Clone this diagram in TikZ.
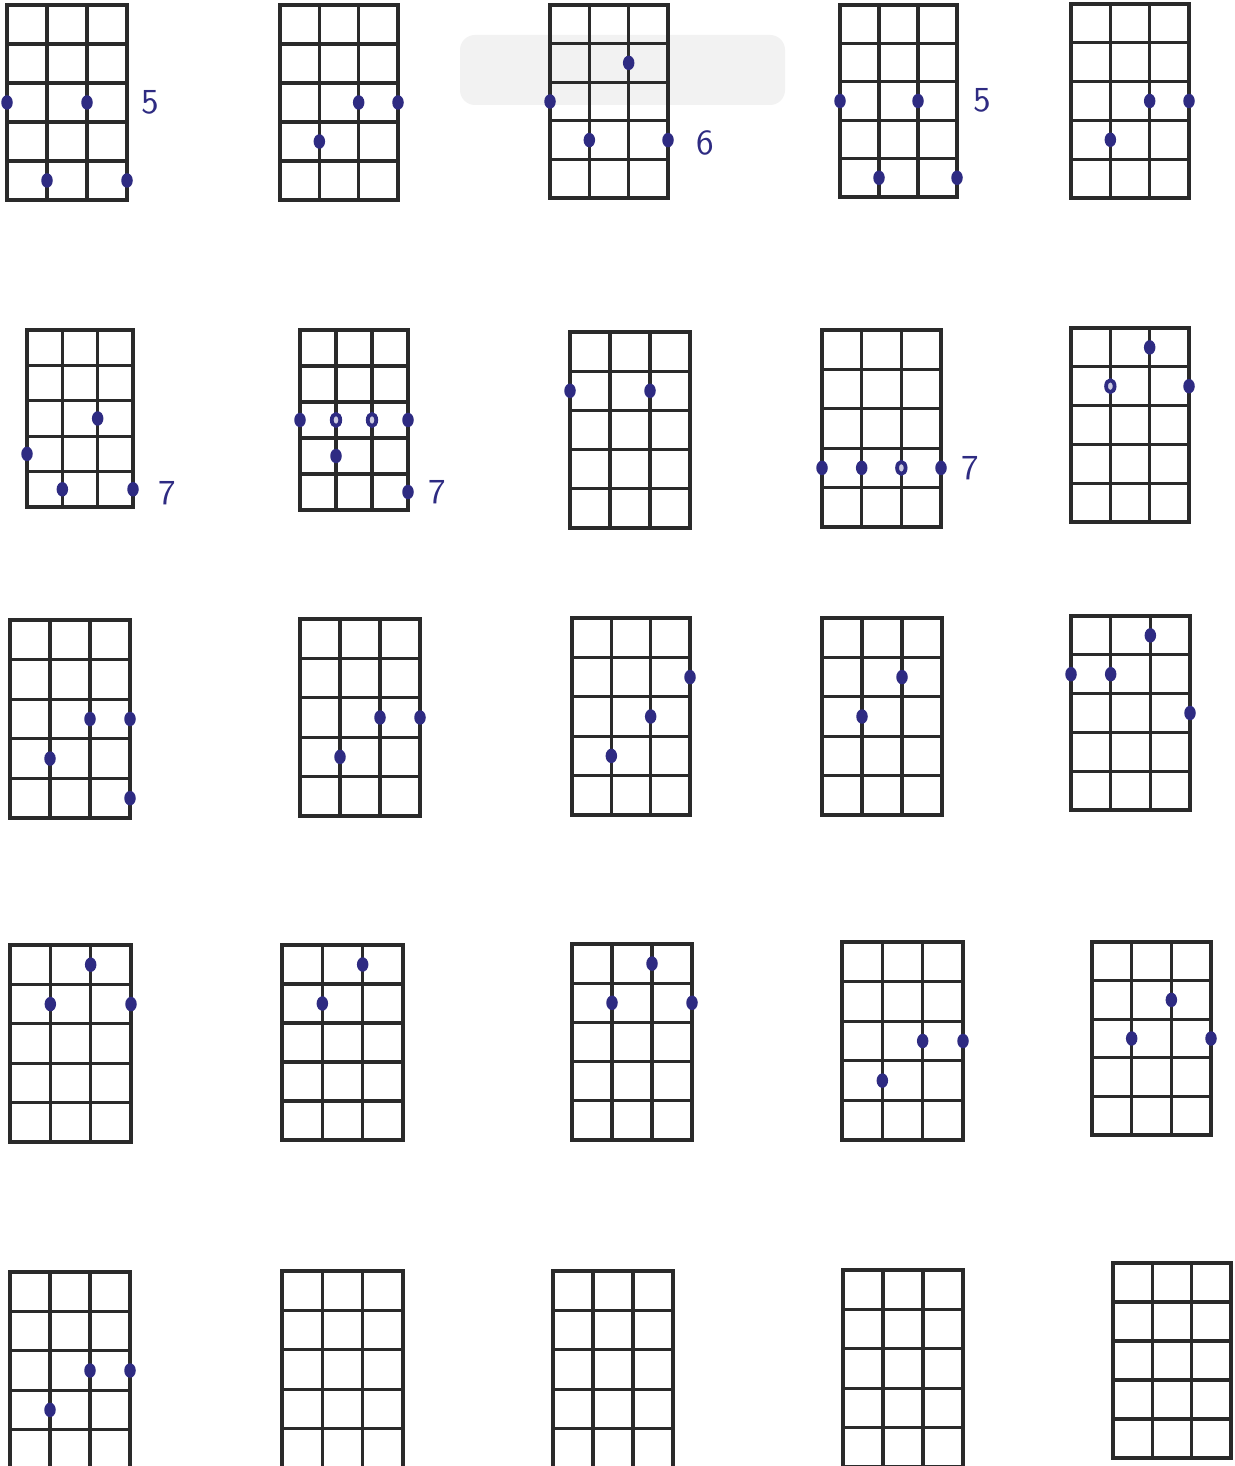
\documentclass[tikz,border=0pt]{standalone}
\usepackage{tikz}
\usetikzlibrary{shapes.geometric}
\definecolor{gridink}{HTML}{2A2A2A}
\definecolor{penblue}{HTML}{2E2B82}
\definecolor{smudge}{HTML}{F2F2F2}

% one chord box: [hollow dots] {name}{left}{top}{right}{bottom}{filled dots string/fret}
\newcommand{\chordbox}[7][]{%
  \draw[fretline] (#3,#4) rectangle (#5,#6);
  \foreach \i in {1,2}
    \draw[fretline] ({#3+\i*(#5-#3)/3},#4) -- ({#3+\i*(#5-#3)/3},#6);
  \foreach \j in {1,...,4}
    \draw[fretline] (#3,{#4+\j*(#6-#4)/5}) -- (#5,{#4+\j*(#6-#4)/5});
  \if\relax\detokenize{#7}\relax\else
    \foreach \s/\f in {#7}
      \node[fdot] (#2-\s-\f) at ({#3+(\s-1)*(#5-#3)/3},{#4+(\f-0.5)*(#6-#4)/5}) {};
  \fi
  \if\relax\detokenize{#1}\relax\else
    \foreach \s/\f in {#1}
      \node[odot] (#2-\s-\f) at ({#3+(\s-1)*(#5-#3)/3},{#4+(\f-0.5)*(#6-#4)/5}) {};
  \fi
}

\begin{document}
\begin{tikzpicture}[
  x=0.1mm, y=-0.1mm,
  fretline/.style={draw=gridink, line width=0.33mm, line cap=rect},
  fdot/.style={ellipse, fill=penblue, draw=none, inner sep=0pt,
               minimum width=1.15mm, minimum height=1.45mm},
  odot/.style={ellipse, draw=penblue, line width=0.38mm, fill=penblue!25, inner sep=0pt,
               minimum width=0.85mm, minimum height=1.2mm},
  fretnum/.style={text=penblue, font=\sffamily\fontsize{10}{10}\selectfont, inner sep=0pt}
]
\fill[white] (0,0) rectangle (1234,1466);
\useasboundingbox (0,0) rectangle (1234,1466);
\clip (0,0) rectangle (1234,1466);
% ----- scanner smudge behind the third box -----
\fill[smudge, rounded corners=1.5mm] (460,35) rectangle (785,105);
% ----- row 1 -----
\chordbox{c1}{7}{5}{127}{200}{1/3, 3/3, 2/5, 4/5}
\chordbox{c2}{280}{5}{398}{200}{3/3, 4/3, 2/4}
\chordbox{c3}{550}{5}{668}{198}{1/3, 3/2, 2/4, 4/4}
\chordbox{c4}{840}{5}{957}{197}{1/3, 3/3, 2/5, 4/5}
\chordbox{c5}{1071}{4}{1189}{198}{3/3, 4/3, 2/4}
\node[fretnum] (n1) at (150,102) {5};
\node[fretnum] (n3) at (705,143) {6};
\node[fretnum] (n4) at (982,100) {5};
% ----- row 2 -----
\chordbox{c6}{27}{330}{133}{507}{3/3, 1/4, 2/5, 4/5}
\chordbox[2/3, 3/3]{c7}{300}{330}{408}{510}{1/3, 4/3, 2/4, 4/5}
\chordbox{c8}{570}{332}{690}{528}{1/2, 3/2}
\chordbox[3/4]{c9}{822}{330}{941}{527}{1/4, 2/4, 4/4}
\chordbox[2/2]{c10}{1071}{328}{1189}{522}{3/1, 4/2}
\node[fretnum] (n6) at (167,493) {7};
\node[fretnum] (n7) at (437,492) {7};
\node[fretnum] (n9) at (970,468) {7};
% ----- row 3 -----
\chordbox{c11}{10}{620}{130}{818}{3/3, 4/3, 2/4, 4/5}
\chordbox{c12}{300}{619}{420}{816}{3/3, 4/3, 2/4}
\chordbox{c13}{572}{618}{690}{815}{4/2, 3/3, 2/4}
\chordbox{c14}{822}{618}{942}{815}{3/2, 2/3}
\chordbox{c15}{1071}{616}{1190}{810}{3/1, 1/2, 2/2, 4/3}
% ----- row 4 -----
\chordbox{c16}{10}{945}{131}{1142}{3/1, 2/2, 4/2}
\chordbox{c17}{282}{945}{403}{1140}{3/1, 2/2}
\chordbox{c18}{572}{944}{692}{1140}{3/1, 2/2, 4/2}
\chordbox{c19}{842}{942}{963}{1140}{3/3, 4/3, 2/4}
\chordbox{c20}{1092}{942}{1211}{1135}{3/2, 2/3, 4/3}
% ----- row 5 (cut off at the page foot) -----
\chordbox{c21}{10}{1272}{130}{1469}{3/3, 4/3, 2/4}
\chordbox{c22}{282}{1271}{403}{1468}{}
\chordbox{c23}{553}{1271}{673}{1468}{}
\chordbox{c24}{843}{1270}{963}{1467}{}
\chordbox{c25}{1113}{1263}{1231}{1458}{}
\end{tikzpicture}
\end{document}
